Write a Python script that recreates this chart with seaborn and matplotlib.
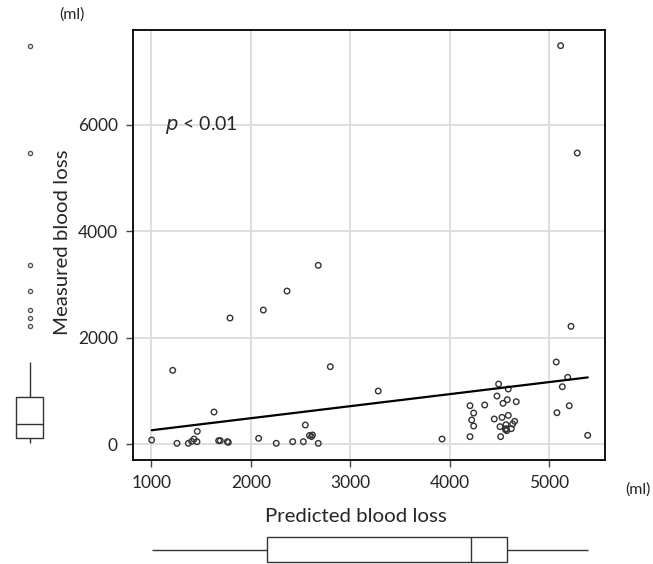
import numpy as np
import pandas as pd
import matplotlib
matplotlib.use("Agg")
import matplotlib.pyplot as plt
import seaborn as sns

# Values (ml)
predicted = [1004, 1215, 1258, 1372, 1406, 1429, 1459, 1462, 1630, 1677,
             1693, 1764, 1774, 1791, 2079, 2126, 2256, 2364, 2421, 2528,
             2548, 2590, 2620, 2610, 2678, 2678, 2799, 3281, 3922, 4203,
             4240, 4220, 4240, 4203, 4351, 4447, 4474, 4491, 4505, 4511,
             4525, 4535, 4565, 4565, 4572, 4560, 4578, 4588, 4588, 4618,
             4632, 4652, 4668, 5070, 5077, 5114, 5131, 5185, 5201, 5218,
             5281, 5386]
measured = [75, 1384, 13, 13, 50, 94, 44, 238, 601, 63,
            63, 44, 31, 2366, 107, 2516, 13, 2873, 44, 44,
            357, 160, 170, 140, 3356, 13, 1452, 995, 94, 720,
            582, 451, 338, 138, 733, 470, 901, 1127, 326, 138,
            501, 764, 363, 288, 251, 270, 832, 1033, 538, 288,
            376, 426, 795, 1540, 588, 7481, 1076, 1252, 719, 2210,
            5465, 163]

x_ticks = [1000, 2000, 3000, 4000, 5000]
y_ticks = [0, 2000, 4000, 6000]

df = pd.DataFrame({"predicted": predicted, "measured": measured})

sns.set_style("whitegrid")
plt.rcParams["font.family"] = ["Lato", "DejaVu Sans"]

W, H = 653, 564
fig = plt.figure(figsize=(W / 100, H / 100), dpi=100)

# main axes in pixel terms: left 133, right 605, top 30, bottom 460
L, R, T, B = 133, 605, 30, 460
ax = fig.add_axes([L / W, 1 - B / H, (R - L) / W, (B - T) / H])

xlim = (816, 5560)
ylim = (-300, 7775)

sns.scatterplot(data=df, x="predicted", y="measured", ax=ax, marker="o",
                s=16, facecolor="none", edgecolor="#333333", linewidth=1.0,
                zorder=3)
sns.regplot(data=df, x="predicted", y="measured", ax=ax, scatter=False,
            ci=None, color="black", line_kws={"linewidth": 1.6, "zorder": 4})

ax.set_xlim(*xlim)
ax.set_ylim(*ylim)
ax.set_xticks(x_ticks)
ax.set_yticks(y_ticks)
ax.grid(True, color="#dcdcdc", linewidth=1.3)
for s in ax.spines.values():
    s.set_color("black")
    s.set_linewidth(1.3)
ax.tick_params(axis="both", which="both", direction="out", length=5,
               width=1, color="#444444", labelsize=12.5, pad=6,
               left=True, bottom=True)
ax.set_xlabel("Predicted blood loss", fontsize=14.7)
ax.set_ylabel("Measured blood loss", fontsize=14.7)
ax.xaxis.set_label_coords((356 - L) / (R - L), (B - 508) / (B - T))
ax.yaxis.set_label_coords((71 - L) / (R - L), (B - 242) / (B - T))

ax.text((165 - L) / (R - L), (B - 125) / (B - T), r"$p$ < 0.01",
        transform=ax.transAxes, fontsize=14, va="center", ha="left")

fig.text(72 / W, 1 - 15 / H, "(ml)", fontsize=11.5, ha="center", va="center")
fig.text(638 / W, 1 - 490 / H, "(ml)", fontsize=11.5, ha="center", va="center")

# left marginal boxplot (measured)
ax_l = fig.add_axes([0, 1 - B / H, 60 / W, (B - T) / H])
sns.boxplot(y=df["measured"], ax=ax_l, width=1.0, color="white",
            linecolor="#333333", linewidth=1.0, fliersize=3,
            flierprops={"marker": "o", "markerfacecolor": "none",
                        "markeredgecolor": "#555555"},
            showcaps=False)
ax_l.set_ylim(*ylim)
ax_l.set_xlim(-29.7 / 27.3, 30.3 / 27.3)
ax_l.axis("off")

# bottom marginal boxplot (predicted)
ax_b = fig.add_axes([L / W, 0, (R - L) / W, 34 / H])
sns.boxplot(x=df["predicted"], ax=ax_b, width=1.0, color="white",
            linecolor="#333333", linewidth=1.0, showcaps=False)
ax_b.set_xlim(*xlim)
ax_b.set_ylim(14.5 / 25, -19.5 / 25)
ax_b.axis("off")

fig.savefig("out.png", dpi=100)
